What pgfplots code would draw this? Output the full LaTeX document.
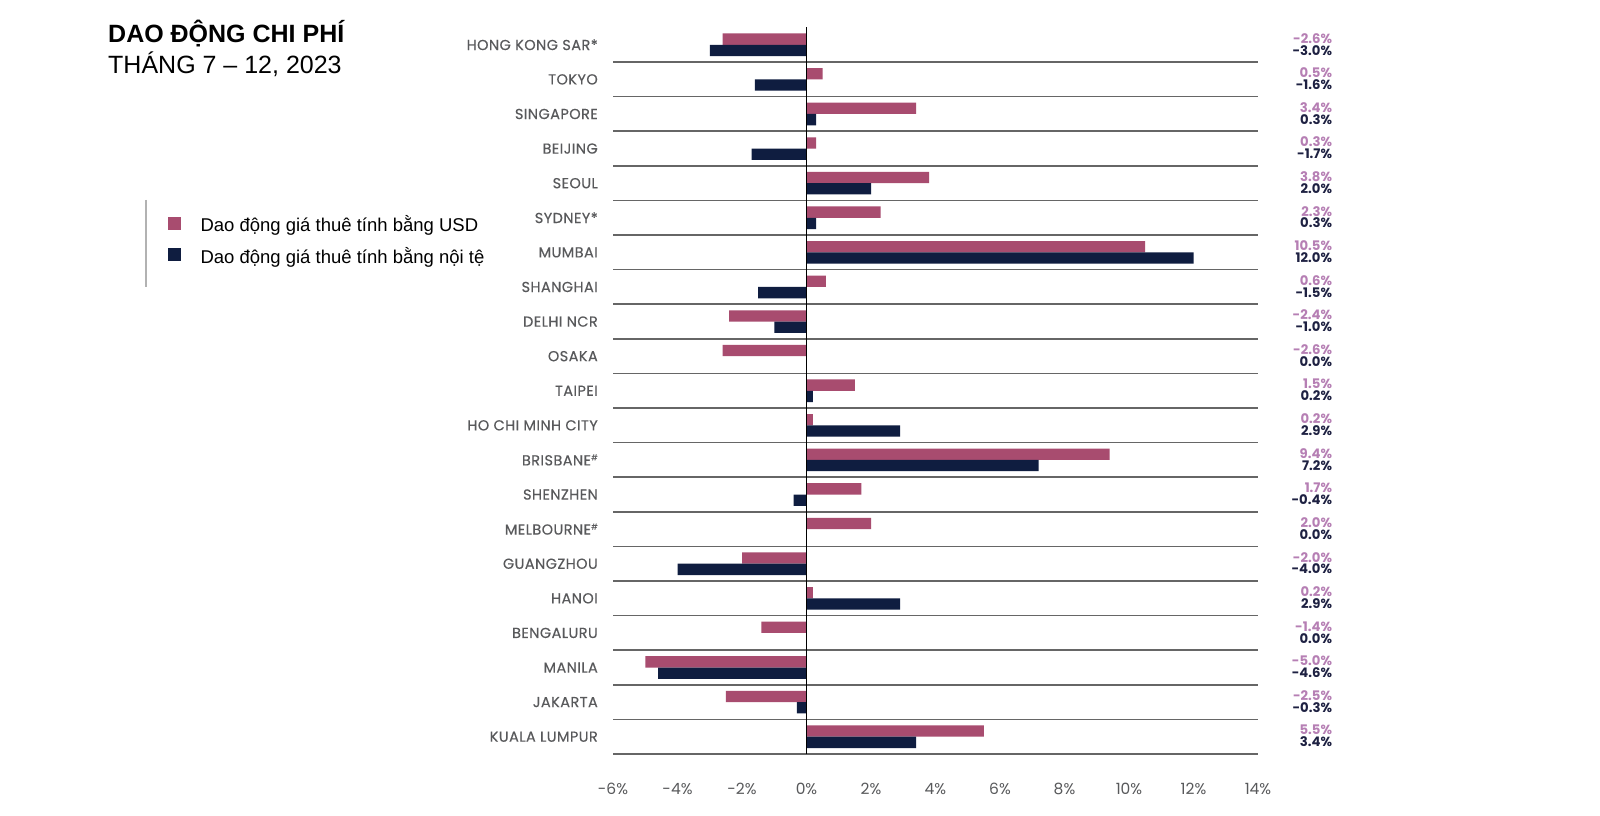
\documentclass[border=0pt]{standalone}
\usepackage{fontspec}
\usepackage{pgfplots}
\usepackage{pgfplotstable}
\pgfplotsset{compat=1.18}
\setmainfont{Liberation Sans}
\newfontfamily\pop{Poppins}
\newfontfamily\popm[FakeBold=0.35, LetterSpace=3]{Poppins}
\definecolor{usdbar}{HTML}{A84C6F}
\definecolor{locbar}{HTML}{0F1D40}
\definecolor{usdlbl}{HTML}{B67FB4}
\definecolor{loclbl}{HTML}{1E2142}
\definecolor{lblgray}{HTML}{58595B}
\definecolor{gridgray}{HTML}{666666}
\newcommand\hashsup{\raisebox{0.35em}{\fontsize{8}{8}\selectfont\#}}

\pgfplotstableread{
idx usd loc
20 -2.6 -3.0
19 0.5 -1.6
18 3.4 0.3
17 0.3 -1.7
16 3.8 2.0
15 2.3 0.3
14 10.5 12.0
13 0.6 -1.5
12 -2.4 -1.0
11 -2.6 0.0
10 1.5 0.2
9 0.2 2.9
8 9.4 7.2
7 1.7 -0.4
6 2.0 0.0
5 -2.0 -4.0
4 0.2 2.9
3 -1.4 0.0
2 -5.0 -4.6
1 -2.5 -0.3
0 5.5 3.4
}\data

\begin{document}
\begin{tikzpicture}
\useasboundingbox (0pt,0pt) rectangle (1600pt,815pt);
\fill[white] (0pt,0pt) rectangle (1600pt,815pt);
\node[anchor=base west, inner sep=0pt, font=\fontsize{25}{30}\selectfont\bfseries] at (108pt,772pt) {DAO ĐỘNG CHI PHÍ};
\node[anchor=base west, inner sep=0pt, font=\fontsize{25}{30}\selectfont] at (108pt,741.5pt) {THÁNG 7 – 12, 2023};
\draw[gray!60, line width=1.5pt] (146pt,615pt) -- (146pt,528pt);
\begin{axis}[
  at={(613pt,61pt)}, anchor=south west,
  scale only axis, width=645pt, height=726.5pt,
  xmin=-6, xmax=14, ymin=-0.5, ymax=20.5,
  clip=false, axis on top,
  axis line style={draw=none},
  tick style={draw=none},
  xtick={-6,-4,...,14},
  xticklabels={-6\%,-4\%,-2\%,0\%,2\%,4\%,6\%,8\%,10\%,12\%,14\%},
  xticklabel style={font=\pop\fontsize{15.5}{15.5}\selectfont, text=lblgray, anchor=center, yshift=-35pt},
  ytick={0,...,20},
  yticklabels={KUALA LUMPUR,JAKARTA,MANILA,BENGALURU,HANOI,GUANGZHOU,MELBOURNE\hashsup,SHENZHEN,BRISBANE\hashsup,HO CHI MINH CITY,TAIPEI,OSAKA,DELHI NCR,SHANGHAI,MUMBAI,SYDNEY*,SEOUL,BEIJING,SINGAPORE,TOKYO,HONG KONG SAR*},
  yticklabel style={font=\popm\fontsize{14.5}{14.5}\selectfont, text=lblgray, anchor=east, inner sep=0pt, xshift=-15pt},
  minor ytick={-0.5,0.5,...,19.5},
  yminorgrids=true,
  minor grid style={gridgray, line width=1.6pt},
  extra x ticks={0}, extra x tick labels={},
  extra x tick style={grid=major, major grid style={black, line width=1.2pt}},
  legend style={at={(axis description cs:-0.691,0.7396)}, anchor=north west, draw=none, fill=none,
    font=\fontsize{18.5}{22}\selectfont, inner sep=0pt, row sep=12.6pt, column sep=19.5pt,
    nodes={inner sep=0pt, text height=12pt, text depth=4pt}},
  legend cell align=left,
]
\addplot[xbar, bar width=11.3pt, bar shift=5.65pt, fill=usdbar, draw=none,
  legend image code/.code={\fill[usdbar] (0pt,-2pt) rectangle (13.5pt,11pt);}]
  table[x=usd, y=idx] {\data};
\addlegendentry{Dao động giá thuê tính bằng USD}
\addplot[xbar, bar width=11.3pt, bar shift=-5.65pt, fill=locbar, draw=none,
  legend image code/.code={\fill[locbar] (0pt,-2pt) rectangle (13.5pt,11pt);}]
  table[x=loc, y=idx] {\data};
\addlegendentry{Dao động giá thuê tính bằng nội tệ}
\addplot[draw=none, mark=none, forget plot, nodes near coords={\pgfplotspointmeta\%}, point meta=explicit symbolic,
  nodes near coords style={anchor=east, inner sep=0pt, font=\pop\fontsize{13.2}{13.2}\bfseries, text=usdlbl}]
  table[x expr=16.3, y expr=\thisrow{idx}+0.19, meta=usd] {\data};
\addplot[draw=none, mark=none, forget plot, nodes near coords={\pgfplotspointmeta\%}, point meta=explicit symbolic,
  nodes near coords style={anchor=east, inner sep=0pt, font=\pop\fontsize{13.2}{13.2}\bfseries, text=loclbl}]
  table[x expr=16.3, y expr=\thisrow{idx}-0.155, meta=loc] {\data};
\end{axis}
\end{tikzpicture}
\end{document}
